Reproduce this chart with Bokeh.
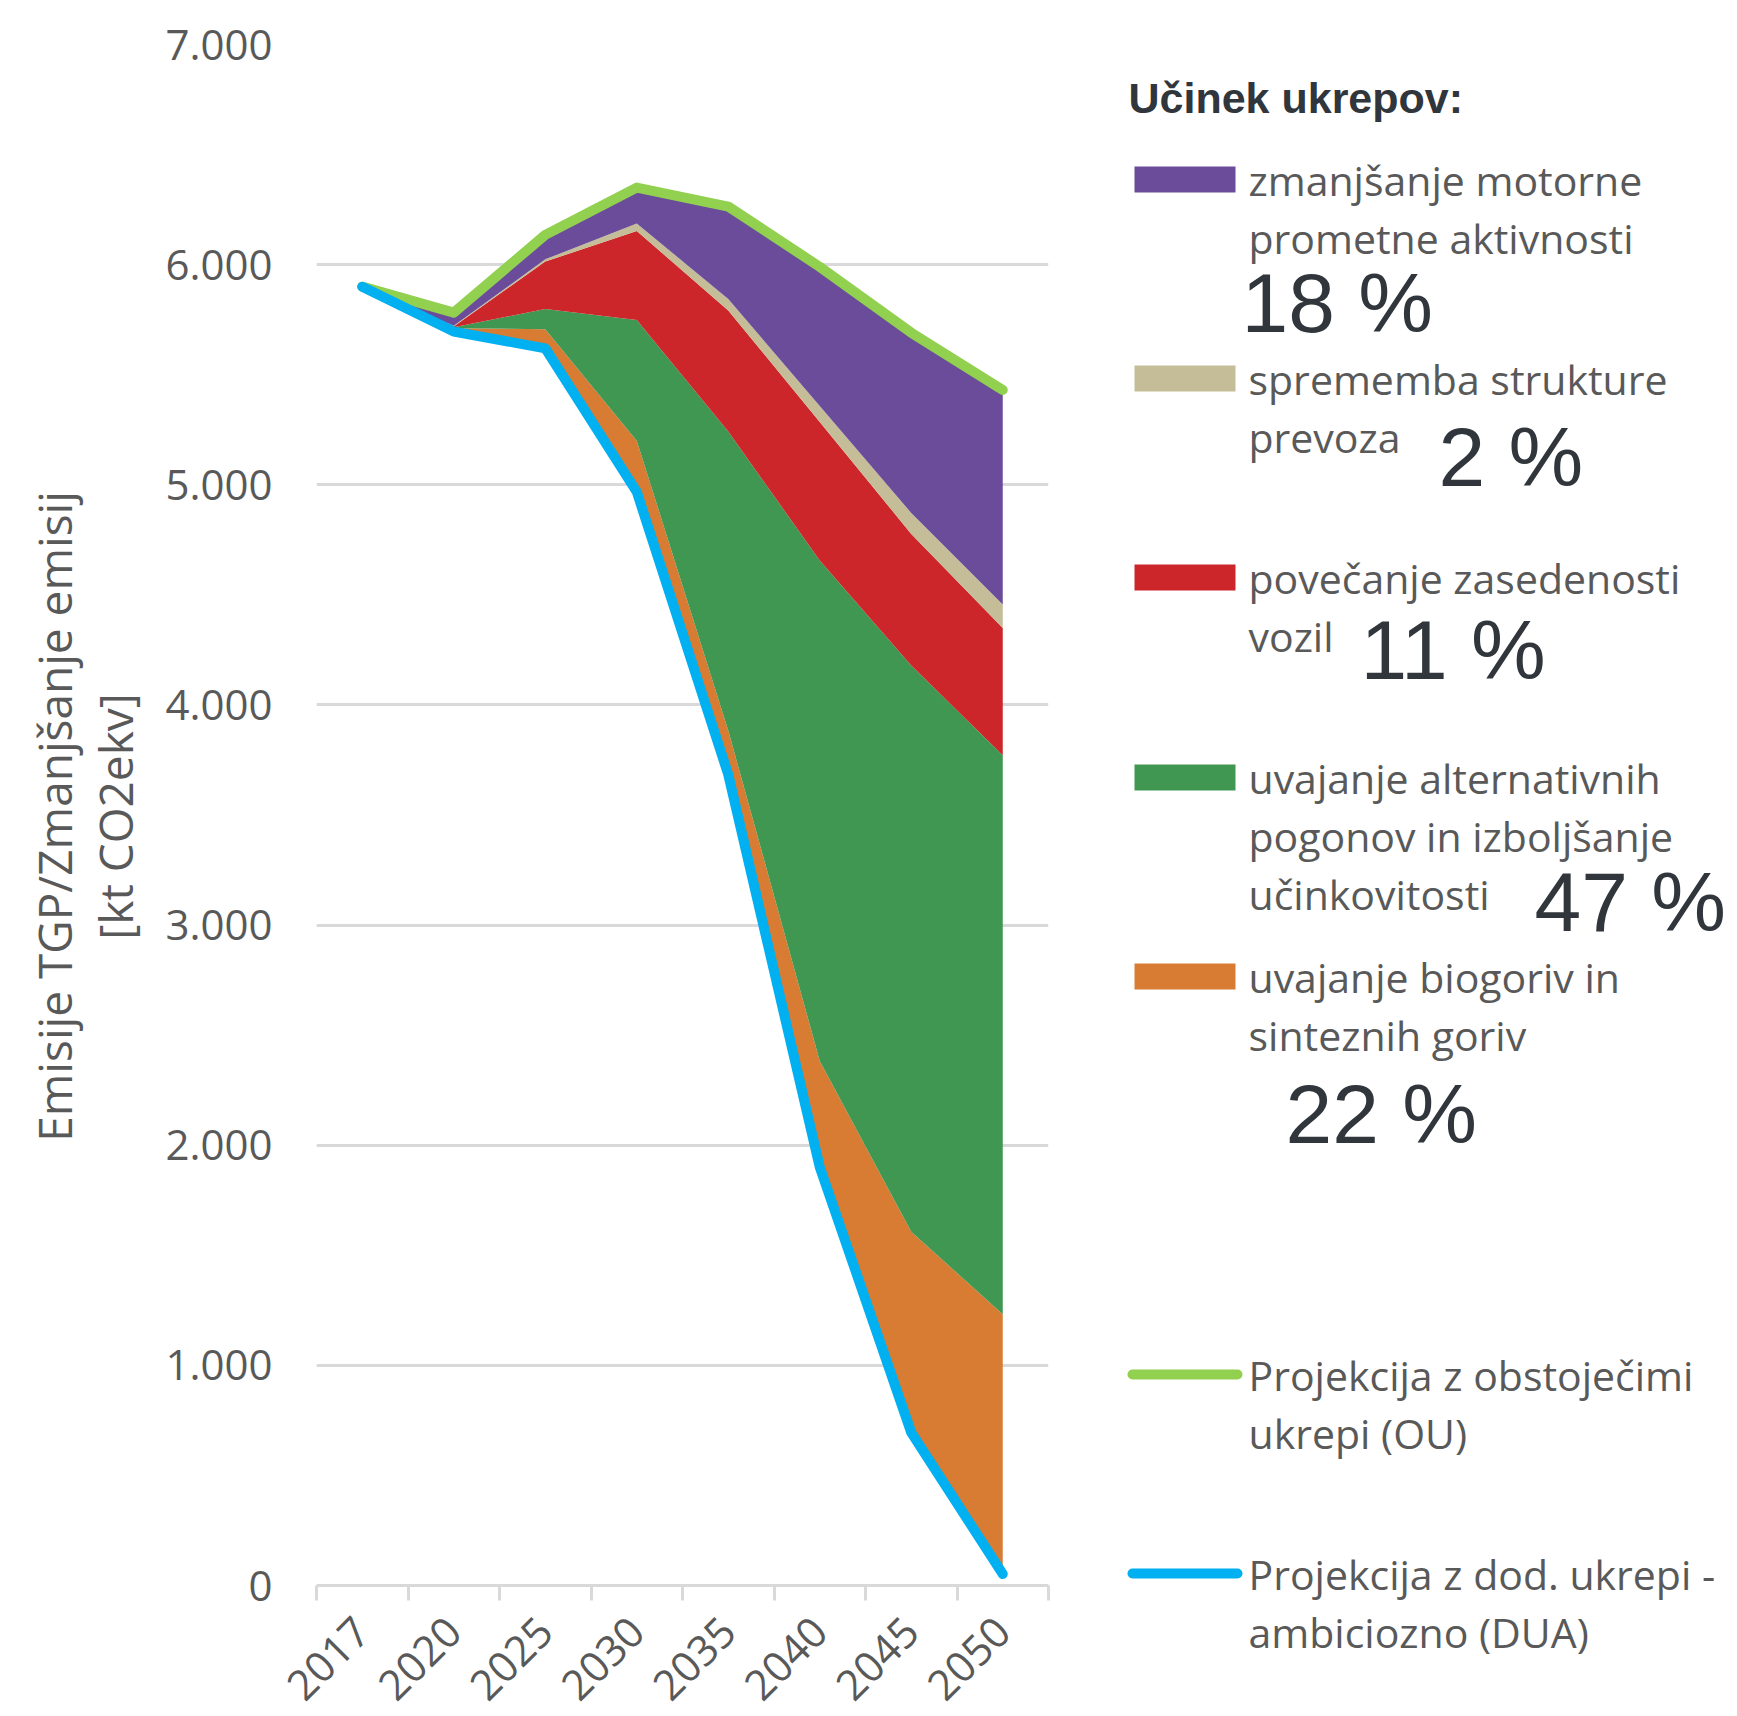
from math import pi
from bokeh.plotting import figure
from bokeh.models import ColumnDataSource, Range1d, FixedTicker
from bokeh.layouts import row
from bokeh.transform import stack
from bokeh.core.properties import value
from bokeh.embed import file_html
from bokeh.resources import INLINE

# ---------------- data ----------------
years = ["2017", "2020", "2025", "2030", "2035", "2040", "2045", "2050"]
dua = [5900, 5696, 5620, 4968, 3684, 1901, 695, 52]          # Projekcija z dod. ukrepi - ambiciozno (DUA)
ou = [5900, 5782, 6135, 6350, 6264, 5990, 5691, 5431]        # Projekcija z obstoječimi ukrepi (OU)
biogoriva = [0, 15, 87, 232, 200, 482, 912, 1180]            # uvajanje biogoriv in sinteznih goriv
alternativni = [0, 5, 91, 548, 1358, 2273, 2572, 2539]       # uvajanje alternativnih pogonov ...
zasedenost = [0, 3, 216, 405, 550, 629, 598, 578]            # povečanje zasedenosti vozil
struktura = [0, 3, 10, 34, 52, 73, 95, 107]                  # sprememba strukture prevoza
aktivnost = [0, 60, 111, 163, 420, 632, 819, 975]            # zmanjšanje motorne prometne aktivnosti

y_ticks = [0, 1000, 2000, 3000, 4000, 5000, 6000, 7000]
y_tick_labels = ["0", "1.000", "2.000", "3.000", "4.000", "5.000", "6.000", "7.000"]

layer_keys = ["biogoriva", "alternativni", "zasedenost", "struktura", "aktivnost"]  # bottom -> top
layer_colors = ["#D77C32", "#3F9752", "#CC262B", "#C4BD97", "#6B4C9A"]

legend_title = "Učinek ukrepov:"
legend_keys = ["aktivnost", "struktura", "zasedenost", "alternativni", "biogoriva"]
legend_texts = [
    ["zmanjšanje motorne", "prometne aktivnosti"],
    ["sprememba strukture", "prevoza"],
    ["povečanje zasedenosti", "vozil"],
    ["uvajanje alternativnih", "pogonov in izboljšanje", "učinkovitosti"],
    ["uvajanje biogoriv in", "sinteznih goriv"],
]
legend_pct = ["18 %", "2 %", "11  %", "47 %", "22 %"]
line_texts = [
    ["Projekcija z obstoječimi", "ukrepi (OU)"],
    ["Projekcija z dod. ukrepi -", "ambiciozno (DUA)"],
]
ou_color = "#92D050"
dua_color = "#00B0F0"
y_title = ["Emisije TGP/Zmanjšanje emisij", "[kt CO2ekv]"]

TEXT_FONT = "Open Sans"
GRAY = "#595959"
DARK = "#30363B"
H = 1716


def panel(width):
    f = figure(width=width, height=H, output_backend="svg", toolbar_location=None, tools="",
               x_range=Range1d(0, width), y_range=Range1d(0, H), min_border=0,
               min_border_left=0, min_border_right=0, min_border_top=0, min_border_bottom=0,
               frame_align=False)
    f.axis.visible = False
    f.grid.visible = False
    f.outline_line_color = None
    return f


# ---------------- main plot ----------------
xs = list(range(len(years)))
src = ColumnDataSource(dict(x=xs, dua=dua, ou=ou, biogoriva=biogoriva, alternativni=alternativni,
                            zasedenost=zasedenost, struktura=struktura, aktivnost=aktivnost))

p = figure(width=950, height=H, output_backend="svg", toolbar_location=None, tools="",
           x_range=Range1d(-0.5, len(years) - 0.5), y_range=Range1d(0, 7000),
           min_border_left=168, min_border_right=50, min_border_top=44, min_border_bottom=130,
           frame_align=False)
p.outline_line_color = None
p.background_fill_color = "white"
p.border_fill_color = "white"

for i, (key, col) in enumerate(zip(layer_keys, layer_colors)):
    below = ["dua"] + layer_keys[:i]
    p.varea(x="x", y1=stack(*below), y2=stack(*(below + [key])), source=src,
            fill_color=col, fill_alpha=1.0)

p.line("x", "ou", source=src, line_color=ou_color, line_width=10, line_cap="round", line_join="round")
p.line("x", "dua", source=src, line_color=dua_color, line_width=10, line_cap="round", line_join="round")

# x axis (category boundaries carry the tick marks)
p.xaxis.ticker = FixedTicker(ticks=xs, minor_ticks=[v - 0.5 for v in xs] + [xs[-1] + 0.5])
p.xaxis.major_label_overrides = {i: y for i, y in enumerate(years)}
p.xaxis.major_label_orientation = pi / 4
p.xaxis.major_tick_line_color = None
p.xaxis.major_tick_out = 0
p.xaxis.major_tick_in = 0
p.xaxis.minor_tick_line_color = "#D9D9D9"
p.xaxis.minor_tick_line_width = 3
p.xaxis.minor_tick_out = 15
p.xaxis.minor_tick_in = 0
p.xaxis.axis_line_color = "#D9D9D9"
p.xaxis.axis_line_width = 3
p.xaxis.major_label_standoff = 24
p.xaxis.major_label_text_font = TEXT_FONT
p.xaxis.major_label_text_font_size = "42px"
p.xaxis.major_label_text_color = GRAY

# y axis
p.yaxis.ticker = FixedTicker(ticks=y_ticks)
p.yaxis.major_label_overrides = {t: l for t, l in zip(y_ticks, y_tick_labels)}
p.yaxis.axis_line_color = None
p.yaxis.major_tick_line_color = None
p.yaxis.minor_tick_line_color = None
p.yaxis.major_tick_out = 0
p.yaxis.major_label_standoff = 44
p.yaxis.major_label_text_font = TEXT_FONT
p.yaxis.major_label_text_font_size = "42px"
p.yaxis.major_label_text_color = GRAY

p.xgrid.grid_line_color = None
p.ygrid.ticker = FixedTicker(ticks=y_ticks)
p.ygrid.grid_line_color = "#D9D9D9"
p.ygrid.grid_line_width = 3

# ---------------- y-axis title panel ----------------
t = panel(148)
t.text(x=[53, 114], y=[900, 900], text=y_title, angle=pi / 2,
       text_font=value(TEXT_FONT), text_font_size="46px", text_color=GRAY,
       text_align="center", text_baseline="middle")

# ---------------- legend panel ----------------
q = panel(635)
q.text(x=[30], y=[1619], text=[legend_title], text_font=value("Liberation Sans"),
       text_font_style="bold", text_font_size="43px", text_color=DARK,
       text_align="left", text_baseline="middle")

swatch_y = [1537, 1338, 1139, 939, 740]
pct_pos = [(143, 1414), (340, 1260), (262, 1067), (436, 815), (187, 603)]
LINE_STEP = 58
color_of = dict(zip(layer_keys, layer_colors))
tx, ty, tt = [], [], []
for key, sy, lines in zip(legend_keys, swatch_y, legend_texts):
    q.rect(x=[86.5], y=[sy], width=101, height=26, fill_color=color_of[key], line_color=None)
    for j, ln in enumerate(lines):
        tx.append(150); ty.append(sy - j * LINE_STEP); tt.append(ln)

line_y = [342, 143]
for ly, col, lines in zip(line_y, [ou_color, dua_color], line_texts):
    q.line(x=[34, 139], y=[ly, ly], line_color=col, line_width=10, line_cap="round")
    for j, ln in enumerate(lines):
        tx.append(150); ty.append(ly - j * LINE_STEP); tt.append(ln)

q.text(x=tx, y=ty, text=tt, text_font=value(TEXT_FONT), text_font_size="41px",
       text_color=GRAY, text_align="left", text_baseline="middle")
q.text(x=[pp[0] for pp in pct_pos], y=[pp[1] for pp in pct_pos], text=legend_pct,
       text_font=value("Liberation Sans"), text_font_size="84px", text_color=DARK,
       text_align="left", text_baseline="middle")

layout = row(t, p, q, spacing=0)
open("out.html", "w").write(file_html(layout, INLINE))
